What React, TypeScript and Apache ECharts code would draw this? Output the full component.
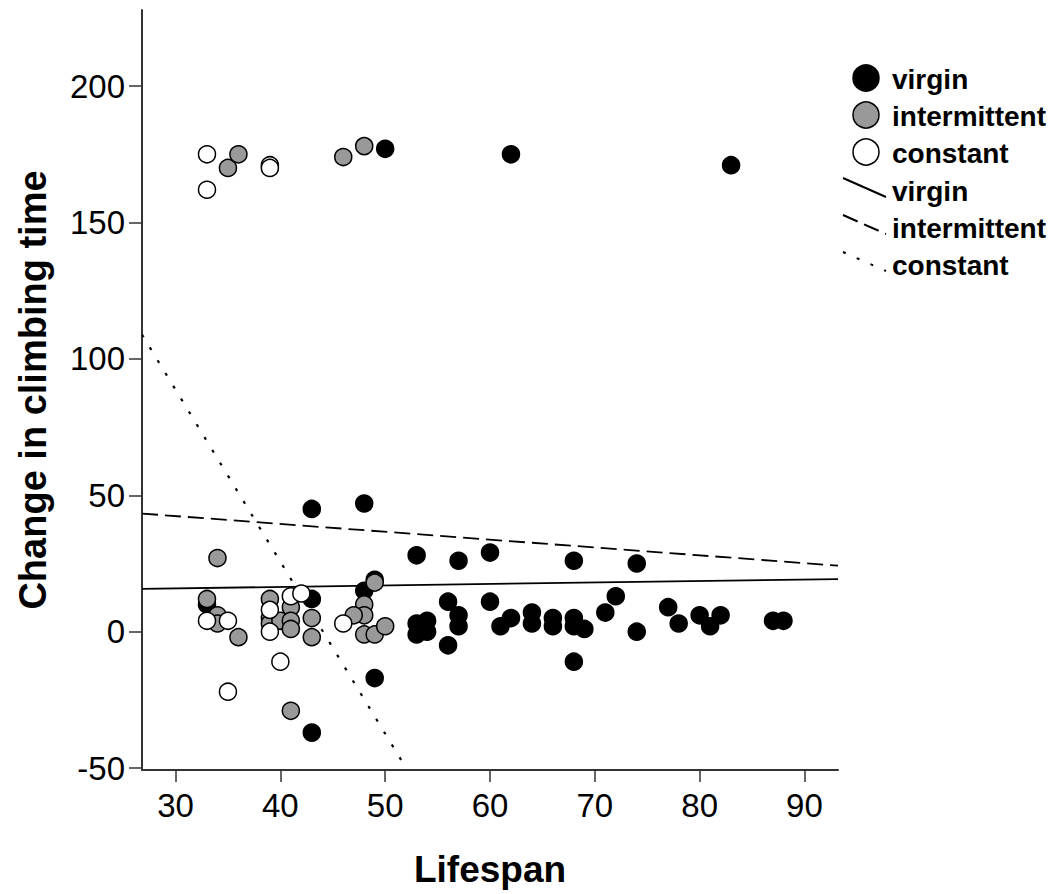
import React, { useEffect, useRef } from "react";
import * as echarts from "echarts";

const X_TICKS = [30, 40, 50, 60, 70, 80, 90];
const Y_TICKS = [-50, 0, 50, 100, 150, 200];

const virgin: [number, number][] = [
  [50, 177], [62, 175], [83, 171],
  [43, 45], [48, 47], [53, 28], [57, 26], [60, 29], [68, 26], [74, 25],
  [49, 19], [48, 15], [43, 12], [33, 10],
  [56, 11], [60, 11], [72, 13], [71, 7], [77, 9], [78, 3], [80, 6], [81, 2], [82, 6],
  [87, 4], [88, 4], [53, 3], [54, 4], [53, -1], [54, 0], [57, 6], [57, 2], [56, -5],
  [62, 5], [61, 2], [64, 7], [64, 3], [66, 5], [66, 2], [68, 5], [68, 2], [69, 1],
  [74, 0], [68, -11], [49, -17], [43, -37],
];

const intermittent: [number, number][] = [
  [35, 170], [36, 175], [46, 174], [48, 178],
  [34, 27], [33, 12], [34, 6], [34, 3], [36, -2], [39, 12], [39, 5], [39, 3],
  [40, 4], [41, 9], [41, 4], [41, 1], [43, 5], [43, -2], [41, -29],
  [48, 10], [48, 6], [47, 6], [48, -1], [49, -1], [50, 2], [49, 18],
];

const constant: [number, number][] = [
  [33, 175], [33, 162], [39, 171], [39, 170],
  [33, 4], [35, 4], [39, 8], [39, 0], [41, 13], [42, 14], [46, 3], [40, -11], [35, -22],
];

const fitVirgin: [number, number][] = [[26.8, 15.7], [93.2, 19.3]];
const fitIntermittent: [number, number][] = [[26.8, 43.3], [93.2, 24.2]];
const fitConstant: [number, number][] = [[26.8, 108.9], [52.0, -50]];

const FONT = "'Liberation Sans', Arial, sans-serif";

export default function App() {
  const ref = useRef<HTMLDivElement>(null);
  useEffect(() => {
    const chart = echarts.init(ref.current!, null, { renderer: "svg" });
    const pointStyle = (fill: string) => ({
      color: fill,
      borderColor: "#000",
      borderWidth: 1.5,
      opacity: 1,
    });
    const legendRows = [
      { kind: "circle", fill: "#000", label: "virgin", y: 78 },
      { kind: "circle", fill: "#999", label: "intermittent", y: 115 },
      { kind: "circle", fill: "#fff", label: "constant", y: 152 },
      { kind: "line", dash: "solid", label: "virgin", y: 190 },
      { kind: "line", dash: [16, 7], label: "intermittent", y: 227 },
      { kind: "line", dash: [3, 12], label: "constant", y: 264 },
    ];
    const graphics: any[] = [];
    legendRows.forEach((r: any) => {
      if (r.kind === "circle") {
        graphics.push({
          type: "circle",
          shape: { cx: 866, cy: r.y, r: 13 },
          style: { fill: r.fill, stroke: "#000", lineWidth: 1.5 },
        });
      } else {
        graphics.push({
          type: "line",
          shape: { x1: 843, y1: r.y - 12, x2: 886, y2: r.y + 7 },
          style: { stroke: "#000", lineWidth: 2, lineDash: r.dash },
        });
      }
      graphics.push({
        type: "text",
        x: 892,
        y: r.y + 1,
        style: {
          text: r.label,
          font: `bold 28px ${FONT}`,
          fill: "#000",
          verticalAlign: "middle",
          align: "left",
        },
      });
    });

    chart.setOption({
      animation: false,
      backgroundColor: "#fff",
      grid: { left: 142, right: 221, top: 10, bottom: 124, containLabel: false },
      xAxis: {
        type: "value",
        min: 26.8,
        max: 93.2,
        name: "Lifespan",
        nameLocation: "middle",
        nameGap: 81,
        nameTextStyle: { fontFamily: FONT, fontSize: 37, fontWeight: "bold", color: "#000" },
        axisLine: { show: true, onZero: false, lineStyle: { color: "#333", width: 2 } },
        axisTick: { show: true, customValues: X_TICKS, length: 12, lineStyle: { color: "#333", width: 1.5 } },
        axisLabel: { customValues: X_TICKS, fontFamily: FONT, fontSize: 33, color: "#000", margin: 19 },
        splitLine: { show: false },
      },
      yAxis: {
        type: "value",
        min: -50.7,
        max: 227.9,
        name: "Change in climbing time",
        nameLocation: "middle",
        nameGap: 90,
        nameTextStyle: { fontFamily: FONT, fontSize: 38, fontWeight: "bold", color: "#000" },
        axisLine: { show: true, onZero: false, lineStyle: { color: "#333", width: 2 } },
        axisTick: { show: true, customValues: Y_TICKS, length: 13, lineStyle: { color: "#333", width: 1.5 } },
        axisLabel: { customValues: Y_TICKS, fontFamily: FONT, fontSize: 33, color: "#000", margin: 17 },
        splitLine: { show: false },
      },
      graphic: graphics,
      series: [
        {
          name: "virgin fit", type: "line", data: fitVirgin, symbol: "none", silent: true,
          lineStyle: { color: "#000", width: 1.8, type: "solid" }, z: 1,
        },
        {
          name: "intermittent fit", type: "line", data: fitIntermittent, symbol: "none", silent: true,
          lineStyle: { color: "#000", width: 1.8, type: [16, 7] }, z: 1,
        },
        {
          name: "constant fit", type: "line", data: fitConstant, symbol: "none", silent: true,
          lineStyle: { color: "#000", width: 2.2, type: [3, 12] }, z: 1,
        },
        { name: "virgin", type: "scatter", data: virgin, symbol: "circle", symbolSize: 17, itemStyle: pointStyle("#000"), z: 2 },
        { name: "intermittent", type: "scatter", data: intermittent, symbol: "circle", symbolSize: 17, itemStyle: pointStyle("#999"), z: 3 },
        { name: "constant", type: "scatter", data: constant, symbol: "circle", symbolSize: 17, itemStyle: pointStyle("#fff"), z: 4 },
      ],
    });
    return () => chart.dispose();
  }, []);
  return (
    <div
      ref={ref}
      style={{ position: "absolute", left: 0, top: 0, width: 1059, height: 894, background: "#fff" }}
    />
  );
}
